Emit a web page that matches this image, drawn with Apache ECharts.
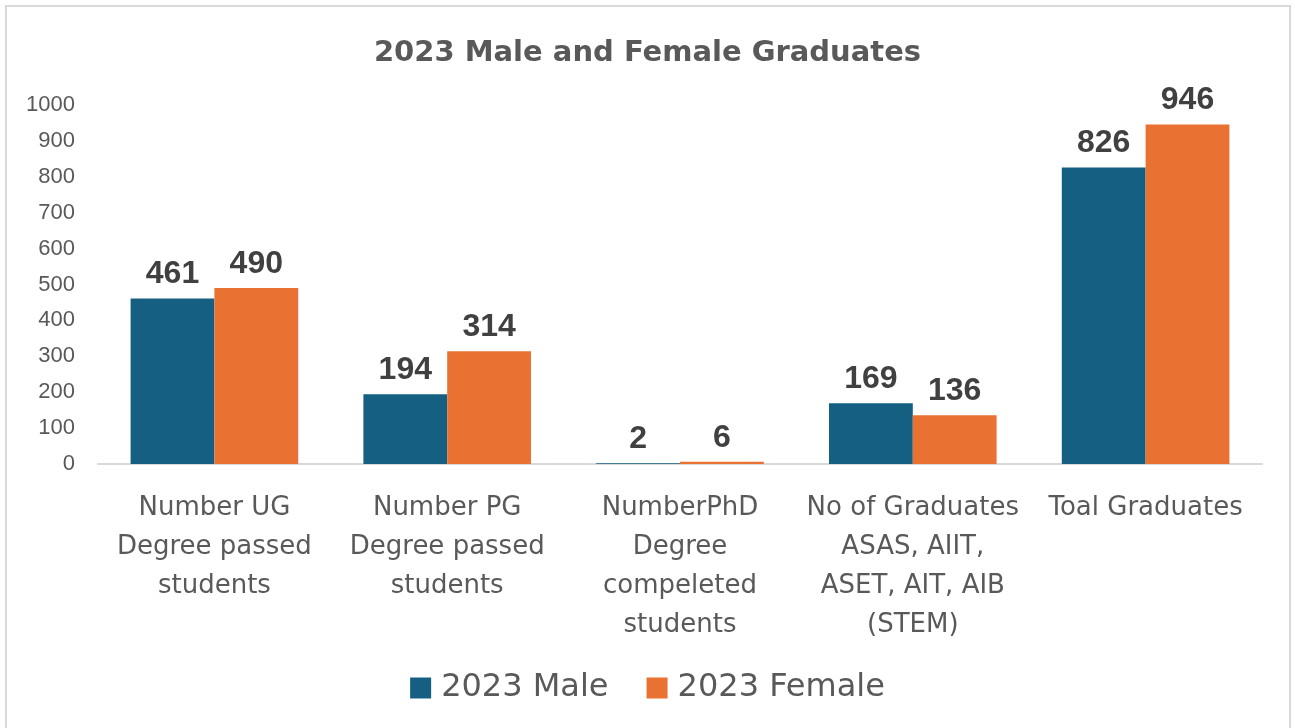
<!DOCTYPE html>
<html>
<head>
<meta charset="utf-8">
<script src="https://cdn.jsdelivr.net/npm/echarts@6/dist/echarts.min.js"></script>
<style>
  html, body { margin: 0; padding: 0; background: #fff; }
  #chart { width: 1295px; height: 728px; }
</style>
</head>
<body>
<div id="chart"></div>
<script>
// Chart data
const categories = [
    'Number UG\nDegree passed\nstudents',
    'Number PG\nDegree passed\nstudents',
    'NumberPhD\nDegree\ncompeleted\nstudents',
    'No of Graduates\nASAS, AIIT,\nASET, AIT, AIB\n(STEM)',
    'Toal Graduates'
];
const maleValues = [461, 194, 2, 169, 826];
const femaleValues = [490, 314, 6, 136, 946];
const seriesNames = ['2023 Male', '2023 Female'];

const wideFont = 'DejaVu Sans, sans-serif';
const font = 'Liberation Sans, Arial, sans-serif';

const dataLabel = {
    show: true,
    position: 'top',
    distance: 8,
    fontFamily: font,
    fontSize: 32,
    fontWeight: 'bold',
    color: '#404040'
};

const myChart = echarts.init(document.getElementById('chart'));

const option = {
    backgroundColor: '#fff',
    animation: false,
    title: {
        text: '2023 Male and Female Graduates',
        left: 'center',
        top: 34,
        textStyle: {
            fontFamily: wideFont,
            fontSize: 29,
            fontWeight: 'bold',
            color: '#595959'
        }
    },
    graphic: [{
        type: 'rect',
        shape: { x: 6, y: 6, width: 1284, height: 740 },
        style: { fill: 'none', stroke: '#d9d9d9', lineWidth: 2 },
        silent: true
    }],
    legend: {
        bottom: 19,
        left: 'center',
        itemWidth: 21,
        itemHeight: 21,
        itemGap: 38,
        icon: 'rect',
        textStyle: {
            fontFamily: wideFont,
            fontSize: 32,
            color: '#595959',
            padding: [0, 0, 0, 5]
        },
        data: seriesNames
    },
    grid: {
        left: 98,
        right: 33,
        top: 105,
        bottom: 264,
        containLabel: false
    },
    xAxis: {
        type: 'category',
        data: categories,
        axisLine: { lineStyle: { color: '#d9d9d9', width: 2 } },
        axisTick: { show: false },
        axisLabel: {
            interval: 0,
            margin: 25,
            lineHeight: 39,
            fontFamily: wideFont,
            fontSize: 26,
            color: '#595959'
        }
    },
    yAxis: {
        type: 'value',
        min: 0,
        max: 1000,
        interval: 100,
        splitLine: { show: false },
        axisLine: { show: false },
        axisTick: { show: false },
        axisLabel: {
            margin: 23,
            formatter: (v) => String(v),
            fontFamily: font,
            fontSize: 22,
            color: '#595959'
        }
    },
    series: [
        {
            name: seriesNames[0],
            type: 'bar',
            data: maleValues,
            barGap: '0%',
            barCategoryGap: '28%',
            itemStyle: { color: '#156082' },
            label: dataLabel
        },
        {
            name: seriesNames[1],
            type: 'bar',
            data: femaleValues,
            barGap: '0%',
            barCategoryGap: '28%',
            itemStyle: { color: '#E97132' },
            label: dataLabel
        }
    ]
};

myChart.setOption(option);
</script>
</body>
</html>
